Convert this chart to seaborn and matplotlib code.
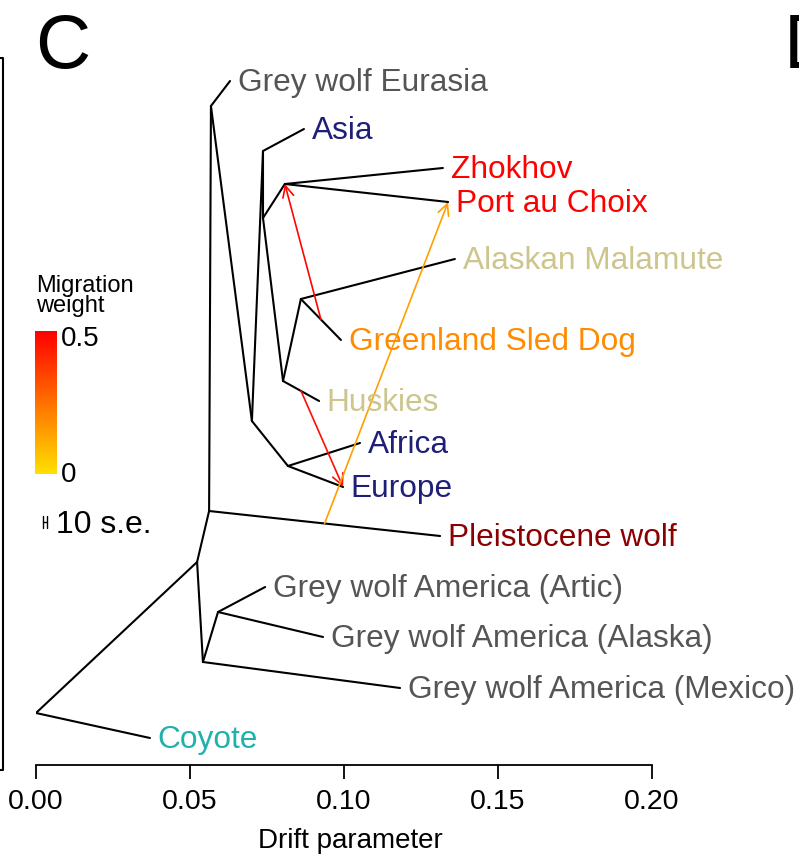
import matplotlib
matplotlib.use("Agg")
import matplotlib.pyplot as plt
import numpy as np
import pandas as pd
import seaborn as sns
from matplotlib.colors import LinearSegmentedColormap
from matplotlib.lines import Line2D

# ---------------- data ----------------
# tree nodes: drift parameter (x) and vertical position (picture rows, top = small)
node_names = ["R", "A", "B", "C", "D", "E", "F", "G", "I", "J", "K", "L", "H",
              "Coyote", "Mexico", "Artic", "Alaska", "Pleistocene", "Eurasia", "Asia",
              "Zhokhov", "Port", "Malamute", "Greenland", "Huskies", "Africa", "Europe"]
node_drift = [0.0000, 0.0523, 0.0562, 0.0542, 0.0591, 0.0568, 0.0701, 0.0737, 0.0737,
              0.0808, 0.0802, 0.0860, 0.0818,
              0.0370, 0.1182, 0.0744, 0.0932, 0.1312, 0.0630, 0.0870,
              0.1321, 0.1338, 0.1360, 0.0990, 0.0919, 0.1052, 0.0997]
node_y = [713, 562, 511, 662, 612, 106, 421, 151, 218, 184, 381, 299, 466,
          738, 688, 587, 637, 536, 81, 129, 168, 202, 259, 340, 401, 443, 487]

edge_parent = ["R", "R", "A", "A", "C", "C", "D", "D", "B", "B", "E", "E", "F", "F",
               "G", "G", "I", "I", "J", "J", "K", "K", "L", "L", "H", "H"]
edge_child = ["Coyote", "A", "B", "C", "Mexico", "D", "Artic", "Alaska", "Pleistocene", "E",
              "Eurasia", "F", "G", "H", "Asia", "I", "J", "K", "Zhokhov", "Port",
              "L", "Huskies", "Malamute", "Greenland", "Africa", "Europe"]

leaf_nodes = ["Eurasia", "Asia", "Zhokhov", "Port", "Malamute", "Greenland", "Huskies",
              "Africa", "Europe", "Pleistocene", "Artic", "Alaska", "Mexico", "Coyote"]
leaf_labels = ["Grey wolf Eurasia", "Asia", "Zhokhov", "Port au Choix", "Alaskan Malamute",
               "Greenland Sled Dog", "Huskies", "Africa", "Europe", "Pleistocene wolf",
               "Grey wolf America (Artic)", "Grey wolf America (Alaska)",
               "Grey wolf America (Mexico)", "Coyote"]
leaf_colors = ["#555555", "#1f1f78", "#ff0000", "#ff0000", "#cdc58c", "#ff8c00", "#cdc58c",
               "#1f1f78", "#1f1f78", "#8b0000", "#555555", "#555555", "#555555", "#20b2aa"]

# migration edges: source = midpoint of edge (parent -> child), arrow to destination node
mig_src_parent = ["L", "K", "B"]
mig_src_child = ["Greenland", "Huskies", "Pleistocene"]
mig_src_frac = [0.5, 0.5, 0.5]
mig_dest = ["J", "Europe", "Port"]
mig_weight = [0.49, 0.47, 0.145]

x_ticks = [0.00, 0.05, 0.10, 0.15, 0.20]
x_tick_labels = ["0.00", "0.05", "0.10", "0.15", "0.20"]
cbar_ticks = ["0.5", "0"]
se_bar_drift = 0.0013

# ---------------- drawing ----------------
sns.set_theme(style="white")
plt.rcParams["font.family"] = ["Liberation Sans", "DejaVu Sans"]
plt.rcParams["text.color"] = "black"
plt.rcParams["axes.labelcolor"] = "black"
plt.rcParams["xtick.color"] = "black"

W, H = 799, 859
fig = plt.figure(figsize=(W / 100, H / 100), dpi=100)
ax = fig.add_axes([36 / W, (H - 765) / H, 616 / W, 705 / H])

pos = {n: (x, y) for n, x, y in zip(node_names, node_drift, node_y)}

rows = []
for i, (p, c) in enumerate(zip(edge_parent, edge_child)):
    rows.append({"edge": i, "order": 0, "x": pos[p][0], "y": pos[p][1]})
    rows.append({"edge": i, "order": 1, "x": pos[c][0], "y": pos[c][1]})
edges_df = pd.DataFrame(rows)

sns.lineplot(data=edges_df, x="x", y="y", units="edge", estimator=None, sort=False,
             color="black", linewidth=1.5, ax=ax, legend=False)

cmap = LinearSegmentedColormap.from_list("heat", [(1.0, 0.88, 0.0), (1.0, 0.0, 0.0)])

for p, c, f, d, w in zip(mig_src_parent, mig_src_child, mig_src_frac, mig_dest, mig_weight):
    x0 = pos[p][0] + f * (pos[c][0] - pos[p][0])
    y0 = pos[p][1] + f * (pos[c][1] - pos[p][1])
    col = cmap(w / 0.5)
    ax.annotate("", xy=pos[d], xytext=(x0, y0),
                arrowprops=dict(arrowstyle="->,head_length=0.45,head_width=0.22",
                                color=col, lw=1.2, shrinkA=0, shrinkB=0,
                                mutation_scale=18))

for n, lab, col in zip(leaf_nodes, leaf_labels, leaf_colors):
    ax.annotate(lab, xy=pos[n], xytext=(5.5, -1.2), textcoords="offset points",
                ha="left", va="center", color=col, fontsize=22.8, annotation_clip=False)

# 10 s.e. scale bar
sx0, sy = 0.0023, 522
ax.plot([sx0, sx0 + se_bar_drift], [sy, sy], color="black", lw=1.0)
ax.plot([sx0, sx0], [sy - 6, sy + 6], color="black", lw=1.0)
ax.plot([sx0 + se_bar_drift] * 2, [sy - 6, sy + 6], color="black", lw=1.0)

ax.set_xlim(0, 0.2)
ax.set_ylim(765, 60)
ax.set_xticks(x_ticks)
ax.set_xticklabels(x_tick_labels)
ax.set_yticks([])
ax.set_ylabel("")
ax.set_xlabel("Drift parameter", fontsize=20, labelpad=10, color="black")
ax.xaxis.set_label_coords((350 - 36) / 616, -(838 - 765) / 705, transform=None) if False else None
ax.tick_params(axis="x", which="both", bottom=True, length=10, width=1.3,
               labelsize=20.5, pad=7, colors="black")
for s in ["left", "right", "top"]:
    ax.spines[s].set_visible(False)
ax.spines["bottom"].set_color("black")
ax.spines["bottom"].set_linewidth(1.3)
ax.set_facecolor("none")
for t in ax.get_xticklabels():
    t.set_color("black")
ax.xaxis.label.set_position(((350 - 36) / 616, 0))

# colour bar for migration weight
cax = fig.add_axes([35 / W, (H - 474) / H, 22 / W, 143 / H])
grad = np.linspace(0, 1, 256).reshape(-1, 1)
cax.imshow(grad, aspect="auto", cmap=cmap, origin="lower")
cax.set_axis_off()

fig.text(36 / W, 1 - 292 / H, "Migration", fontsize=17, va="baseline", ha="left", color="black")
fig.text(36 / W, 1 - 312 / H, "weight", fontsize=17, va="baseline", ha="left", color="black")
fig.text(61 / W, 1 - 346 / H, cbar_ticks[0], fontsize=20, va="baseline", ha="left", color="black")
fig.text(61 / W, 1 - 482 / H, cbar_ticks[1], fontsize=20, va="baseline", ha="left", color="black")
fig.text(56 / W, 1 - 533 / H, "10 s.e.", fontsize=23, va="baseline", ha="left", color="black")

# panel letters
fig.text(35 / W, 1 - 68 / H, "C", fontsize=55, va="baseline", ha="left", color="black")
fig.text(784 / W, 1 - 68 / H, "D", fontsize=55, va="baseline", ha="left", color="black")

# edge of the neighbouring panel on the left
fig.add_artist(Line2D([0 / W, 3 / W, 3 / W, 0 / W],
                      [1 - 58 / H, 1 - 58 / H, 1 - 770 / H, 1 - 770 / H],
                      color="black", lw=1.5, transform=fig.transFigure))

fig.savefig("out.png", dpi=100, facecolor="white")
